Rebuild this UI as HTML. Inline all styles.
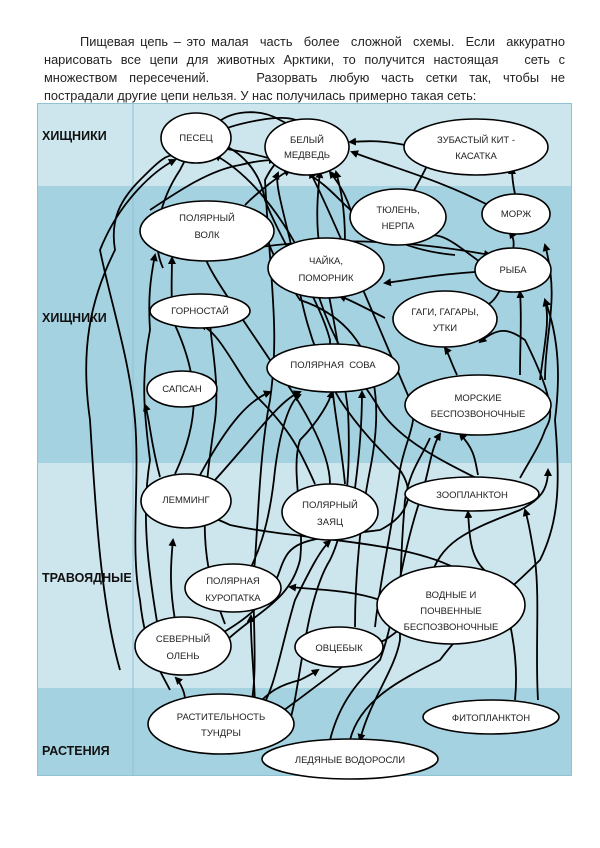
<!DOCTYPE html>
<html><head><meta charset="utf-8"><style>
body{margin:0;width:600px;height:848px;background:#fff;position:relative;overflow:hidden;font-family:"Liberation Sans","DejaVu Sans",sans-serif}
.p{position:absolute;left:44px;width:521px;top:33px;font-size:12.8px;line-height:18px;color:#222}
.p div{text-align:justify;text-align-last:justify;white-space:nowrap}
.p div.l{text-align-last:left}
svg{position:absolute;left:0;top:0}
</style></head><body>
<div class="p">
<div style="padding-left:36px">Пищевая цепь – это малая&nbsp; часть&nbsp; более&nbsp; сложной&nbsp; схемы.&nbsp; Если&nbsp; аккуратно</div>
<div>нарисовать все цепи для животных Арктики, то получится настоящая&nbsp;&nbsp; сеть с</div>
<div>множеством пересечений.&nbsp;&nbsp;&nbsp; Разорвать любую часть сетки так, чтобы не</div>
<div class="l">пострадали другие цепи нельзя. У нас получилась примерно такая сеть:</div>
</div>
<svg width="600" height="848" viewBox="0 0 600 848">
<defs><marker id="a" markerWidth="8" markerHeight="8" refX="6" refY="4" orient="auto" markerUnits="userSpaceOnUse"><path d="M0,0 L8,4 L0,8z" fill="#000"/></marker></defs>
<rect x="37" y="103" width="535" height="83" fill="#cde6ee"/>
<rect x="37" y="186" width="535" height="277" fill="#a5d2e1"/>
<rect x="37" y="463" width="535" height="225" fill="#cde6ee"/>
<rect x="37" y="688" width="535" height="88" fill="#a5d2e1"/>
<rect x="37.5" y="103.5" width="534" height="672" fill="none" stroke="#8fc3d4"/>
<line x1="133" y1="103" x2="133" y2="776" stroke="#8fc3d4"/>
<g font-weight="bold" font-size="12.5" fill="#111">
<text x="42" y="140">ХИЩНИКИ</text><text x="42" y="322">ХИЩНИКИ</text>
<text x="42" y="582">ТРАВОЯДНЫЕ</text><text x="42" y="755">РАСТЕНИЯ</text></g>
<g fill="none" stroke="#000" stroke-width="1.8" marker-end="url(#a)">
<path d="M405,145 C380,140 365,141 350,142"/>
<path d="M412,194 C420,180 425,170 430,160"/>
<path d="M515,194 C513,185 512,175 512,168"/>
<path d="M490,206 C440,180 400,170 352,152"/>
<path d="M513,250 C515,240 512,235 510,232"/>
<path d="M480,262 C450,240 440,230 420,238"/>
<path d="M475,272 C430,275 410,280 385,283"/>
<path d="M500,290 C495,300 490,305 480,308"/>
<path d="M385,318 C360,305 350,300 340,296"/>
<path d="M457,375 C450,360 448,352 445,348"/>
<path d="M520,375 C520,340 522,320 520,292"/>
<path d="M540,380 C545,340 550,320 545,300"/>
<path d="M545,380 C545,330 560,300 545,245"/>
<path d="M478,475 C475,460 475,450 460,434"/>
<path d="M520,478 C530,460 540,445 545,430 C550,420 560,410 525,340 C510,330 500,325 480,342"/>
<path d="M538,700 C535,650 540,600 535,560 C530,530 528,520 525,510"/>
<path d="M515,700 C520,650 505,590 490,575 C470,560 470,540 468,512"/>
<path d="M350,740 C360,700 400,680 440,660 C470,620 500,600 540,560 C560,520 560,480 555,420 C560,380 560,340 545,300"/>
<path d="M330,740 C340,700 360,680 380,660 C395,620 400,560 420,500 C430,470 430,450 440,434"/>
<path d="M430,580 C440,540 470,530 520,510 C540,500 548,490 548,470"/>
<path d="M270,720 C300,700 360,650 385,640 C400,630 405,625 408,618"/>
<path d="M250,712 C270,690 280,685 300,680 C310,675 315,672 318,670"/>
<path d="M255,710 C255,680 250,640 251,616"/>
<path d="M185,700 C185,690 178,680 176,678"/>
<path d="M175,620 C170,590 170,570 173,540"/>
<path d="M160,640 C150,580 140,520 150,460 C145,420 140,380 150,330 C148,300 150,280 155,255"/>
<path d="M170,690 C160,670 145,650 140,600 C130,550 140,480 135,420 C130,360 110,300 100,250 C120,200 155,170 175,160"/>
<path d="M260,710 C275,690 280,650 295,600 C310,570 320,550 330,541"/>
<path d="M225,624 C200,560 200,520 215,420 C220,380 210,340 210,320"/>
<path d="M160,477 C150,440 150,420 145,405"/>
<path d="M175,474 C200,420 200,380 175,325 C170,300 172,280 172,258"/>
<path d="M200,475 C230,420 250,400 270,392"/>
<path d="M215,480 C260,430 280,400 300,392"/>
<path d="M232,600 C260,560 270,520 275,470 C280,430 290,400 300,395"/>
<path d="M227,640 C260,610 290,600 300,560 C305,520 290,470 300,440 C320,420 330,400 332,392"/>
<path d="M355,488 C360,450 362,420 362,392"/>
<path d="M315,484 C300,450 290,430 260,400 C240,380 220,330 200,325"/>
<path d="M330,484 C330,450 300,400 270,360 C230,300 200,260 203,246"/>
<path d="M345,484 C340,430 330,400 330,340 C320,300 280,240 265,200 C260,170 240,150 216,142"/>
<path d="M355,627 C355,580 360,520 370,470 C380,420 390,330 300,300 C280,270 270,250 265,232"/>
<path d="M375,627 C380,580 390,540 400,470 C405,440 420,420 410,400 C380,330 330,210 310,172"/>
<path d="M455,568 C400,540 300,540 230,525 C220,520 212,518 210,515"/>
<path d="M380,600 C350,590 320,590 290,587"/>
<path d="M200,645 C250,620 270,600 280,570 C290,540 300,540 380,530 C400,520 420,500 400,470 C380,450 360,430 340,400 C310,350 300,300 290,240 C280,200 275,180 278,173"/>
<path d="M120,670 C100,600 95,500 90,420 C80,350 90,300 115,250 C110,220 120,200 140,180 C160,160 170,150 180,158"/>
<path d="M250,710 C260,670 250,600 255,560 C258,520 260,450 270,400 C280,330 270,280 265,180 C275,160 285,150 300,170"/>
<path d="M290,720 C300,690 305,600 330,560 C350,520 350,450 348,410 C340,350 330,300 320,250 C315,220 318,190 320,172"/>
<path d="M150,210 C180,190 210,170 240,165 C260,160 270,160 275,160"/>
<path d="M163,268 C150,240 160,200 180,170 C190,150 200,130 260,120 C290,115 300,120 300,125"/>
<path d="M245,205 C260,190 280,175 290,170"/>
<path d="M355,228 C350,200 340,185 330,172"/>
<path d="M345,241 C345,200 338,180 336,172"/>
<path d="M455,255 C400,250 370,230 340,200 C320,180 300,160 220,148"/>
<path d="M480,480 C440,460 400,440 380,410 C370,390 340,360 320,300 C300,240 260,180 215,155"/>
<path d="M240,250 C300,240 380,235 490,255"/>
<path d="M215,125 C230,110 260,108 280,120 C290,125 295,128 298,130"/>
<path d="M430,438 C420,460 410,470 405,500 C400,560 400,600 400,640 C395,670 370,700 360,740"/>
</g>
<g fill="#fff" stroke="#000" stroke-width="1.6">
<ellipse cx="196" cy="138" rx="35" ry="25"/>
<ellipse cx="307" cy="147" rx="42" ry="28"/>
<ellipse cx="476" cy="147" rx="72" ry="28"/>
<ellipse cx="398" cy="217" rx="48" ry="28"/>
<ellipse cx="516" cy="214" rx="34" ry="20"/>
<ellipse cx="207" cy="231" rx="67" ry="30"/>
<ellipse cx="326" cy="268" rx="58" ry="30"/>
<ellipse cx="513" cy="270" rx="38" ry="22"/>
<ellipse cx="200" cy="311" rx="50" ry="17"/>
<ellipse cx="445" cy="319" rx="52" ry="28"/>
<ellipse cx="333" cy="368" rx="66" ry="24"/>
<ellipse cx="182" cy="389" rx="35" ry="18"/>
<ellipse cx="478" cy="405" rx="73" ry="30"/>
<ellipse cx="186" cy="501" rx="45" ry="27"/>
<ellipse cx="330" cy="512" rx="48" ry="28"/>
<ellipse cx="472" cy="494" rx="67" ry="17"/>
<ellipse cx="233" cy="588" rx="48" ry="24"/>
<ellipse cx="451" cy="605" rx="74" ry="39"/>
<ellipse cx="183" cy="646" rx="48" ry="29"/>
<ellipse cx="339" cy="647" rx="44" ry="20"/>
<ellipse cx="221" cy="724" rx="73" ry="30"/>
<ellipse cx="491" cy="717" rx="68" ry="17"/>
<ellipse cx="350" cy="759" rx="88" ry="20"/>
</g>
<g font-size="9.5" fill="#222" text-anchor="middle">
<text x="196" y="141">ПЕСЕЦ</text>
<text x="307" y="143">БЕЛЫЙ</text><text x="307" y="158">МЕДВЕДЬ</text>
<text x="476" y="143">ЗУБАСТЫЙ КИТ -</text><text x="476" y="159">КАСАТКА</text>
<text x="398" y="213">ТЮЛЕНЬ,</text><text x="398" y="229">НЕРПА</text>
<text x="516" y="217">МОРЖ</text>
<text x="207" y="221">ПОЛЯРНЫЙ</text><text x="207" y="238">ВОЛК</text>
<text x="326" y="264">ЧАЙКА,</text><text x="326" y="281">ПОМОРНИК</text>
<text x="513" y="273">РЫБА</text>
<text x="200" y="314">ГОРНОСТАЙ</text>
<text x="445" y="315">ГАГИ, ГАГАРЫ,</text><text x="445" y="331">УТКИ</text>
<text x="333" y="368">ПОЛЯРНАЯ&nbsp; СОВА</text>
<text x="182" y="392">САПСАН</text>
<text x="478" y="401">МОРСКИЕ</text><text x="478" y="417">БЕСПОЗВОНОЧНЫЕ</text>
<text x="186" y="503">ЛЕММИНГ</text>
<text x="330" y="508">ПОЛЯРНЫЙ</text><text x="330" y="525">ЗАЯЦ</text>
<text x="472" y="498">ЗООПЛАНКТОН</text>
<text x="233" y="584">ПОЛЯРНАЯ</text><text x="233" y="601">КУРОПАТКА</text>
<text x="451" y="598">ВОДНЫЕ И</text><text x="451" y="614">ПОЧВЕННЫЕ</text><text x="451" y="630">БЕСПОЗВОНОЧНЫЕ</text>
<text x="183" y="642">СЕВЕРНЫЙ</text><text x="183" y="659">ОЛЕНЬ</text>
<text x="339" y="651">ОВЦЕБЫК</text>
<text x="221" y="720">РАСТИТЕЛЬНОСТЬ</text><text x="221" y="736">ТУНДРЫ</text>
<text x="491" y="721">ФИТОПЛАНКТОН</text>
<text x="350" y="763">ЛЕДЯНЫЕ ВОДОРОСЛИ</text>
</g>
</svg>
</body></html>
